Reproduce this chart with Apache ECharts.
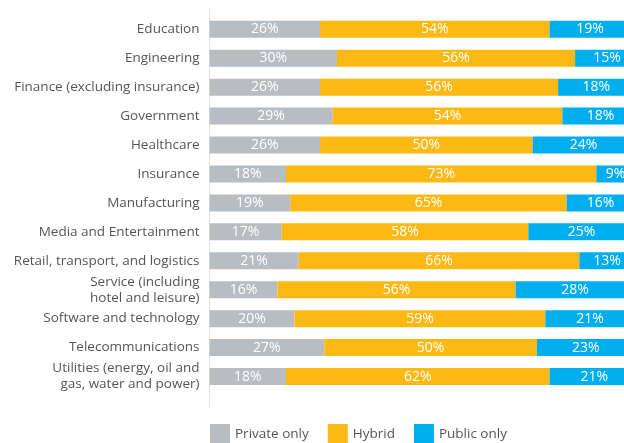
<!DOCTYPE html>
<html>
<head>
<meta charset="utf-8">
<script src="https://cdn.jsdelivr.net/npm/echarts@6/dist/echarts.min.js"></script>
<style>html,body{margin:0;padding:0;background:#fff;}#chart{width:624px;height:443px;}</style>
</head>
<body>
<div id="chart"></div>
<script>
const categories = [
  'Education',
  'Engineering',
  'Finance (excluding insurance)',
  'Government',
  'Healthcare',
  'Insurance',
  'Manufacturing',
  'Media and Entertainment',
  'Retail, transport, and logistics',
  'Service (including\nhotel and leisure)',
  'Software and technology',
  'Telecommunications',
  'Utilities (energy, oil and\ngas, water and power)'
];
const privateOnly = [26, 30, 26, 29, 26, 18, 19, 17, 21, 16, 20, 27, 18];
const hybrid      = [54, 56, 56, 54, 50, 73, 65, 58, 66, 56, 59, 50, 62];
const publicOnly  = [19, 15, 18, 18, 24, 9, 16, 25, 13, 28, 21, 23, 21];
const seriesNames = ['Private only', 'Hybrid', 'Public only'];
const colors = ['#b8bdc2', '#fdb913', '#00aeef'];

const font = '"Open Sans", "Noto Sans", sans-serif';
const chart = echarts.init(document.getElementById('chart'));

function makeSeries(name, data, color) {
  return {
    name: name,
    type: 'bar',
    stack: 'total',
    data: data,
    barWidth: 17,
    clip: false,
    xAxisIndex: 0,
    yAxisIndex: 0,
    itemStyle: { color: color },
    label: {
      show: true,
      position: 'inside',
      formatter: '{c}%',
      color: '#ffffff',
      fontFamily: font,
      fontSize: 14
    },
    emphasis: { disabled: true }
  };
}

chart.setOption({
  animation: false,
  textStyle: { fontFamily: font },
  grid: [
    { left: 209.5, top: 14.8, height: 376.2, right: 0 },
    { left: 209.5, top: 8, bottom: 36, right: 0 }
  ],
  legend: {
    data: seriesNames,
    left: 210,
    top: 424,
    padding: 0,
    itemWidth: 20,
    itemHeight: 20,
    itemGap: 19,
    icon: 'rect',
    textStyle: { color: '#555', fontSize: 13.5, fontFamily: font }
  },
  xAxis: [
    { type: 'value', min: 0, max: 97.5, show: false, gridIndex: 0 },
    { type: 'value', min: 0, max: 1, show: false, gridIndex: 1 }
  ],
  yAxis: [
    {
      type: 'category',
      data: categories,
      inverse: true,
      gridIndex: 0,
      axisLine: { show: false },
      axisTick: { show: false },
      axisLabel: {
        color: '#555',
        fontSize: 13.5,
        fontFamily: font,
        margin: 10,
        lineHeight: 16,
        align: 'right'
      }
    },
    {
      type: 'value',
      min: 0,
      max: 1,
      gridIndex: 1,
      axisLine: { show: true, lineStyle: { color: '#e2e2e2', width: 1 } },
      axisTick: { show: false },
      axisLabel: { show: false },
      splitLine: { show: false }
    }
  ],
  series: [
    makeSeries(seriesNames[0], privateOnly, colors[0]),
    makeSeries(seriesNames[1], hybrid, colors[1]),
    makeSeries(seriesNames[2], publicOnly, colors[2])
  ]
});
</script>
</body>
</html>
